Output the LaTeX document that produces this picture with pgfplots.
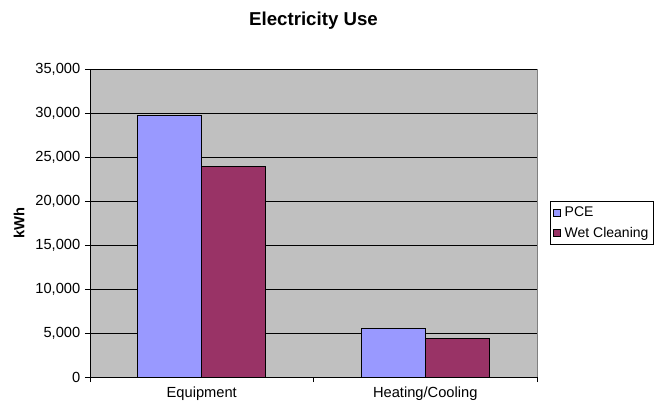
\documentclass[border=0pt]{standalone}
\usepackage{pgfplots}
\pgfplotsset{compat=1.18}
\usepackage{fontspec}
\setmainfont{Liberation Sans}
\definecolor{pce}{HTML}{9999FF}
\definecolor{wet}{HTML}{993366}
\definecolor{plotbg}{HTML}{C0C0C0}
\begin{document}
\begin{tikzpicture}
\begin{axis}[
  at={(67.5pt,21pt)}, anchor=south west,
  scale only axis, width=335.25pt, height=231pt,
  xmin=-0.5, xmax=1.5, ymin=0, ymax=35000,
  xtick={-0.5,0.5,1.5},
  xticklabels={Equipment,Heating/Cooling},
  x tick label as interval,
  ytick={0,5000,10000,15000,20000,25000,30000,35000},
  scaled y ticks=false,
  /pgf/number format/.cd, fixed, 1000 sep={,}, assume math mode=true, /pgfplots/.cd,
  ymajorgrids, grid style={black, line width=0.6pt},
  tick align=outside, major tick length=3.75pt,
  tick style={black, line width=0.6pt},
  axis lines*=left,
  axis line style={black, line width=0.75pt},
  axis background/.style={fill=plotbg, draw=gray, line width=0.6pt},
  ticklabel style={font=\fontsize{11}{13}\selectfont},
  title={Electricity Use},
  title style={at={(0.5,1.1299)}, anchor=center, font=\bfseries\fontsize{14}{16}\selectfont},
  ylabel={kWh},
  ylabel style={at={(-0.1588,0.5)}, anchor=center, font=\bfseries\fontsize{11}{13}\selectfont},
  legend style={at={(1,0.5)}, anchor=west, xshift=9.75pt, draw=black, line width=0.6pt,
    font=\fontsize{10.5}{12}\selectfont, row sep=2.5pt, inner xsep=2pt, inner ysep=2pt,
    /tikz/every odd column/.append style={column sep=1pt}},
  legend cell align=left,
  legend image code/.code={\draw[#1,draw=black,line width=0.5pt] (0pt,-2.6pt) rectangle (5.2pt,2.6pt);},
]
\addplot[ybar, bar width=0.286, bar shift=-0.143, fill=pce, draw=black, line width=0.6pt]
  coordinates {(0,29740) (1,5490)};
\addplot[ybar, bar width=0.286, bar shift=0.143, fill=wet, draw=black, line width=0.6pt]
  coordinates {(0,23900) (1,4350)};
\legend{PCE,Wet Cleaning}
\end{axis}
\pgfresetboundingbox
\path[use as bounding box] (0,0) rectangle (492.75pt,303.75pt);
\end{tikzpicture}
\end{document}
